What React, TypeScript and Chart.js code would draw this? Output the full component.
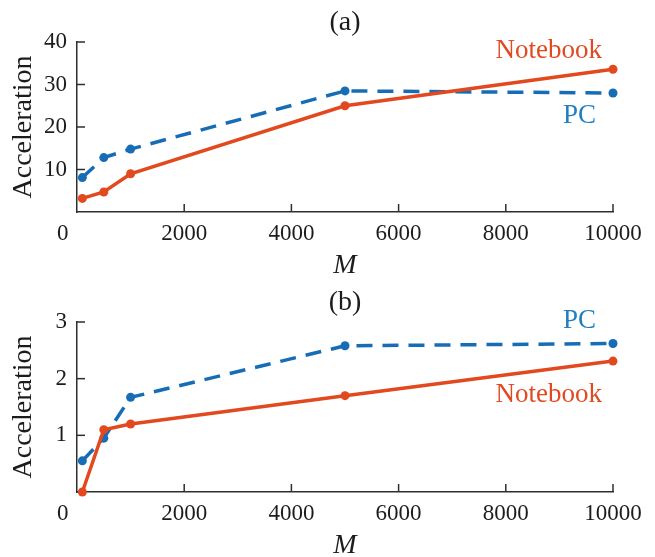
import React, { useEffect, useRef } from 'react';
import { Chart, registerables } from 'chart.js';

Chart.register(...registerables);

// ---- data ----
const M = [100, 500, 1000, 5000, 10000];
const notebookA = [3.2, 4.7, 9.0, 25.0, 33.6];
const pcA = [8.1, 12.8, 14.8, 28.5, 28.0];
const notebookB = [0.0, 1.1, 1.2, 1.7, 2.31];
const pcB = [0.55, 0.95, 1.67, 2.58, 2.62];
const xTicks = [0, 2000, 4000, 6000, 8000, 10000];
const yTicksA = [10, 20, 30, 40];
const yTicksB = [1, 2, 3];

const FAMILY = "'Liberation Serif', 'Times New Roman', serif";
const RED = '#e2491f';
const BLUE = '#176db5';
const BLUE_TEXT = '#1f7fc3';
const AXIS = '#2e2e2e';
const TEXT = '#1c1c1c';
const W = 655;
const H = 280;

type Lbl = { text: string; color: string; dx: number; dy: number };

function makeDecor(title: string, labels: Lbl[]) {
  return {
    id: 'decor',
    afterDraw(chart: any) {
      const { ctx, chartArea: ca } = chart;
      const x = chart.scales.x;
      const y = chart.scales.y;
      ctx.save();
      ctx.strokeStyle = AXIS;
      ctx.lineWidth = 1.5;
      x.ticks.forEach((t: any) => {
        if (t.value === 0) return;
        const px = x.getPixelForValue(t.value);
        ctx.beginPath();
        ctx.moveTo(px, ca.bottom);
        ctx.lineTo(px, ca.bottom - 8);
        ctx.stroke();
      });
      y.ticks.forEach((t: any) => {
        if (t.value === 0) return;
        const py = y.getPixelForValue(t.value);
        ctx.beginPath();
        ctx.moveTo(ca.left, py);
        ctx.lineTo(ca.left + 8, py);
        ctx.stroke();
      });
      ctx.textBaseline = 'alphabetic';
      ctx.font = `28px ${FAMILY}`;
      ctx.fillStyle = TEXT;
      ctx.textAlign = 'center';
      ctx.fillText(title, (ca.left + ca.right) / 2, ca.top - 12);
      ctx.font = `27px ${FAMILY}`;
      ctx.textAlign = 'right';
      labels.forEach((l) => {
        ctx.fillStyle = l.color;
        ctx.fillText(l.text, ca.right - l.dx, ca.top + l.dy);
      });
      ctx.restore();
    },
  };
}

function Panel(props: {
  title: string;
  notebook: number[];
  pc: number[];
  yMax: number;
  yTicks: number[];
  labels: Lbl[];
  top: number;
}) {
  const ref = useRef<HTMLCanvasElement>(null);
  useEffect(() => {
    if (!ref.current) return;
    const tickFont = { family: FAMILY, size: 23 };
    const chart = new Chart(ref.current, {
      type: 'line',
      data: {
        datasets: [
          {
            label: 'Notebook',
            data: M.map((m, i) => ({ x: m, y: props.notebook[i] })),
            borderColor: RED,
            backgroundColor: RED,
            pointBackgroundColor: RED,
            pointBorderColor: RED,
            borderWidth: 3.5,
            pointRadius: 4.5,
            pointBorderWidth: 0,
            tension: 0,
            clip: false,
          } as any,
          {
            label: 'PC',
            data: M.map((m, i) => ({ x: m, y: props.pc[i] })),
            borderColor: BLUE,
            backgroundColor: BLUE,
            pointBackgroundColor: BLUE,
            pointBorderColor: BLUE,
            borderWidth: 3.5,
            borderDash: [16, 10],
            pointRadius: 4.5,
            pointBorderWidth: 0,
            tension: 0,
            clip: false,
          } as any,
        ],
      },
      options: {
        animation: false,
        responsive: false,
        layout: { padding: { left: 0, top: 42, right: 42, bottom: 0 } },
        plugins: {
          legend: { display: false },
          tooltip: { enabled: false },
          title: { display: false },
        },
        scales: {
          x: {
            type: 'linear',
            min: 0,
            max: 10000,
            afterBuildTicks: (s: any) => {
              s.ticks = xTicks.map((v) => ({ value: v }));
            },
            afterFit: (s: any) => {
              s.height = H - 212;
            },
            grid: { display: false, drawTicks: false },
            border: { display: true, color: AXIS, width: 1.5 },
            ticks: {
              callback: (v: any) => (v === 0 ? '0     ' : String(v)),
              font: tickFont,
              color: TEXT,
              padding: 8,
              maxRotation: 0,
              autoSkip: false,
            },
            title: {
              display: true,
              text: 'M',
              color: TEXT,
              font: { family: FAMILY, size: 28, style: 'italic', lineHeight: 1 },
              padding: 0,
            },
          },
          y: {
            type: 'linear',
            min: 0,
            max: props.yMax,
            afterBuildTicks: (s: any) => {
              s.ticks = props.yTicks.map((v) => ({ value: v }));
            },
            afterFit: (s: any) => {
              s.width = 77;
            },
            grid: { display: false, drawTicks: false },
            border: { display: true, color: AXIS, width: 1.5 },
            ticks: {
              font: tickFont,
              color: TEXT,
              padding: 10,
              autoSkip: false,
            },
            title: {
              display: true,
              text: 'Acceleration',
              color: TEXT,
              font: { family: FAMILY, size: 28, lineHeight: 1 },
              padding: { top: 10, bottom: 0 },
            },
          },
        },
      } as any,
      plugins: [makeDecor(props.title, props.labels)],
    });
    return () => chart.destroy();
  }, []);
  return (
    <canvas
      ref={ref}
      width={W}
      height={H}
      style={{ position: 'absolute', left: 0, top: props.top, width: W, height: H }}
    />
  );
}

export default function App() {
  return (
    <div
      style={{
        position: 'absolute',
        left: 0,
        top: 0,
        width: W,
        height: 557,
        overflow: 'hidden',
        background: '#fff',
      }}
    >
      <Panel
        title="(a)"
        notebook={notebookA}
        pc={pcA}
        yMax={40}
        yTicks={yTicksA}
        top={0}
        labels={[
          { text: 'Notebook', color: RED, dx: 11, dy: 16 },
          { text: 'PC', color: BLUE_TEXT, dx: 17, dy: 81 },
        ]}
      />
      <Panel
        title="(b)"
        notebook={notebookB}
        pc={pcB}
        yMax={3}
        yTicks={yTicksB}
        top={280}
        labels={[
          { text: 'PC', color: BLUE_TEXT, dx: 17, dy: 6 },
          { text: 'Notebook', color: RED, dx: 11, dy: 80 },
        ]}
      />
    </div>
  );
}
